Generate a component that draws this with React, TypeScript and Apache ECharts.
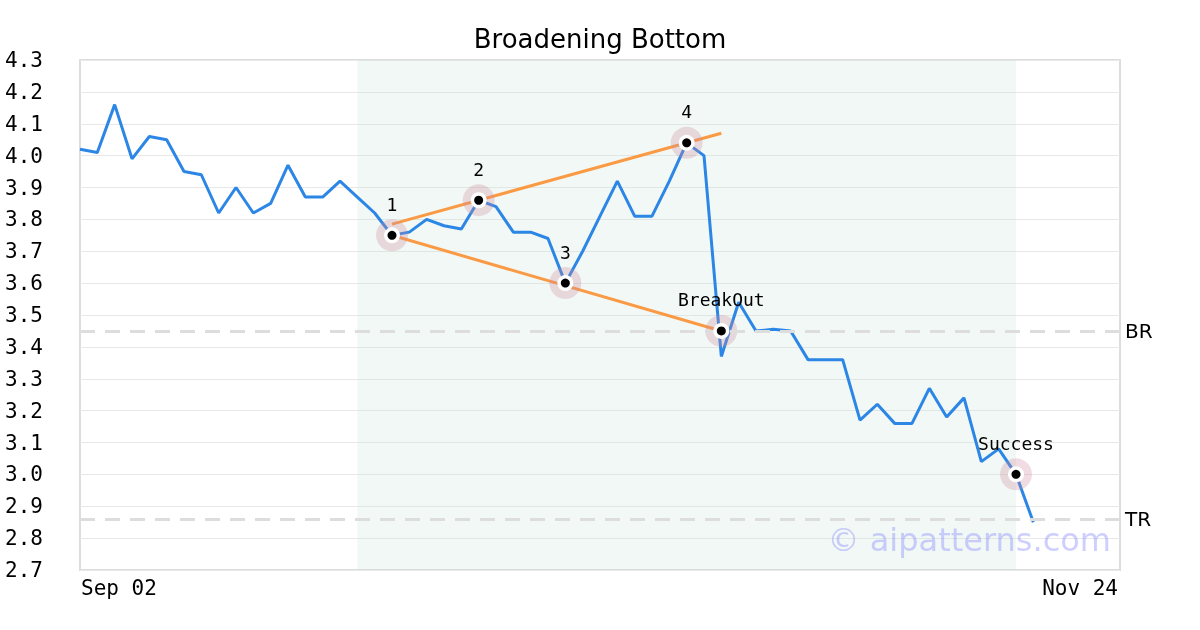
import React, { useEffect, useRef } from "react";
import * as echarts from "echarts";

const title = "Broadening Bottom";
const xTickLabels = ["Sep 02", "Nov 24"];
const xMaxIndex = 60;
const prices = [
  4.02, 4.01, 4.16, 3.99, 4.06, 4.05, 3.95, 3.94, 3.82, 3.9, 3.82, 3.85, 3.97, 3.87, 3.87, 3.92,
  3.87, 3.82, 3.75, 3.76, 3.8, 3.78, 3.77, 3.86, 3.84, 3.76, 3.76, 3.74, 3.6, 3.7, 3.81, 3.92,
  3.81, 3.81, 3.92, 4.04, 4.0, 3.37, 3.54, 3.45, 3.455, 3.45, 3.36, 3.36, 3.36, 3.17, 3.22, 3.16,
  3.16, 3.27, 3.18, 3.24, 3.04, 3.08, 3.0, 2.85,
];
const markerIdx = [18, 23, 28, 35, 37, 54];
const markerVal = [3.75, 3.86, 3.6, 4.04, 3.45, 3.0];
const markerText = ["1", "2", "3", "4", "BreakOut", "Success"];
const upperLine = [[18, 3.785], [37, 4.07]];
const lowerLine = [[18, 3.75], [37, 3.45]];
const patternRange = [16, 54];
const brLevel = 3.45;
const trLevel = 2.86;

export default function App() {
  const ref = useRef<HTMLDivElement>(null);
  useEffect(() => {
    const chart = echarts.init(ref.current!, null, { renderer: "svg" });
    const mono = "DejaVu Sans Mono";
    const sans = "DejaVu Sans";
    const markers = markerIdx.map((x, i) => ({ value: [x, markerVal[i]], label: { formatter: markerText[i] } }));
    const pts = markerIdx.map((x, i) => [x, markerVal[i]]);
    chart.setOption({
      animation: false,
      title: {
        text: title,
        left: "center",
        top: 21,
        textStyle: { fontFamily: sans, fontSize: 26, fontWeight: "normal", color: "#000" },
      },
      grid: { left: 80, right: 80, top: 60, bottom: 60, show: true, borderColor: "#dddddd", borderWidth: 2 },
      xAxis: {
        type: "value",
        min: 0,
        max: xMaxIndex,
        interval: xMaxIndex,
        axisLine: { show: false },
        axisTick: { show: false },
        splitLine: { show: false },
        axisLabel: {
          fontFamily: mono,
          fontSize: 21,
          color: "#000",
          margin: 7,
          alignMinLabel: "left",
          alignMaxLabel: "right",
          padding: [0, 2, 0, 1],
          formatter: (v: number) => (v === 0 ? xTickLabels[0] : v === xMaxIndex ? xTickLabels[1] : ""),
        },
      },
      yAxis: {
        type: "value",
        min: 2.7,
        max: 4.3,
        interval: 0.1,
        axisLine: { show: false },
        axisTick: { show: false },
        splitLine: { lineStyle: { color: "#e8e8e8", width: 1 } },
        axisLabel: {
          fontFamily: mono,
          fontSize: 21,
          color: "#000",
          align: "left",
          margin: 75,
          formatter: (v: number) => v.toFixed(1),
        },
      },
      graphic: [
        {
          type: "text",
          right: 89,
          top: 524,
          z: 100,
          style: { text: "© aipatterns.com", fontFamily: sans, fontSize: 32, fill: "rgba(130,130,255,0.38)" },
        },
      ],
      series: [
        {
          type: "line",
          data: prices.map((v, i) => [i, v]),
          symbol: "none",
          lineStyle: { color: "#2b86e6", width: 3 },
          z: 2,
          markArea: {
            silent: true,
            itemStyle: { color: "rgba(190,225,210,0.22)" },
            data: [[{ xAxis: patternRange[0] }, { xAxis: patternRange[1] }]],
          },
          markLine: {
            silent: true,
            symbol: "none",
            lineStyle: { color: "#dddddd", type: [15, 10], width: 3 },
            label: { position: "end", distance: 5, fontFamily: sans, fontSize: 20, color: "#000" },
            data: [
              { yAxis: brLevel, label: { formatter: "BR" } },
              { yAxis: trLevel, label: { formatter: "TR" } },
            ],
          },
        },
        {
          type: "line",
          data: upperLine,
          symbol: "none",
          lineStyle: { color: "#fb9a44", width: 3 },
          z: 3,
        },
        {
          type: "line",
          data: lowerLine,
          symbol: "none",
          lineStyle: { color: "#fb9a44", width: 3 },
          z: 3,
        },
        {
          type: "scatter",
          data: markers,
          symbolSize: 32,
          itemStyle: { color: "rgba(205,140,160,0.3)", opacity: 1 },
          label: { show: true, position: "top", distance: 6, fontFamily: mono, fontSize: 18, color: "#000" },
          z: 4,
        },
        {
          type: "scatter",
          data: pts,
          symbolSize: 16,
          itemStyle: { color: "#ffffff", opacity: 1 },
          z: 5,
        },
        {
          type: "scatter",
          data: pts,
          symbolSize: 9,
          itemStyle: { color: "#000000", opacity: 1 },
          z: 6,
        },
      ],
    });
    return () => chart.dispose();
  }, []);
  return <div ref={ref} style={{ position: "fixed", left: 0, top: 0, width: 1200, height: 630 }} />;
}
